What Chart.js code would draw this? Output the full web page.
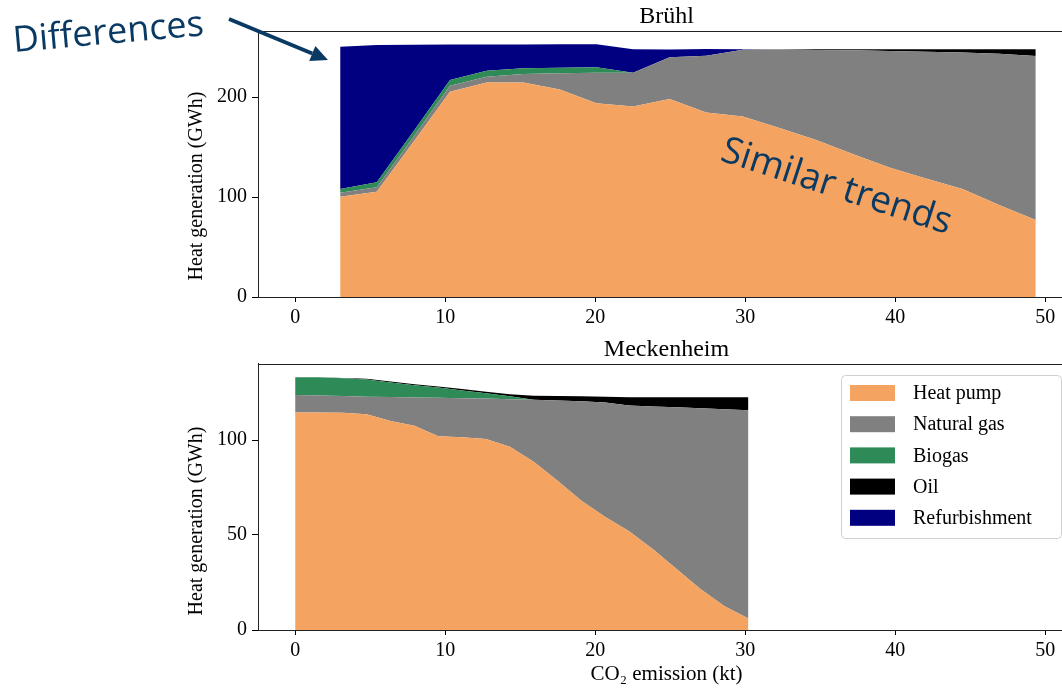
<!DOCTYPE html>
<html><head><meta charset="utf-8">
<script src="https://cdn.jsdelivr.net/npm/chart.js@4.4.1/dist/chart.umd.min.js"></script>
<style>
html,body{margin:0;padding:0;background:#fff;overflow:hidden;width:1062px;height:688px;position:relative}
#w1{position:absolute;left:0;top:0;width:1100px;height:333px}
#w2{position:absolute;left:0;top:333px;width:1100px;height:355px}
</style></head><body>
<div id="w1"><canvas id="c1"></canvas></div>
<div id="w2"><canvas id="c2"></canvas></div>
<script>
// ---------- data ----------
const seriesNames = ['Heat pump', 'Natural gas', 'Biogas', 'Oil', 'Refurbishment'];
const panelTitles = ['Brühl', 'Meckenheim'];
const xTicks = [0, 10, 20, 30, 40, 50];
const yTicksBruehl = [0, 100, 200];
const yTicksMeckenheim = [0, 50, 100];

const bruehlEmission = [3.0, 5.44, 7.88, 10.32, 12.76, 15.2, 17.64, 20.08, 22.52, 24.96, 27.4, 29.84, 32.28, 34.72, 37.16, 39.6, 42.04, 44.48, 46.92, 49.36];
const bruehlHeatPump = [100.3, 105.3, 155, 205.3, 214.5, 214.5, 207.5, 193.7, 190.5, 198, 184.5, 180.5, 169, 157, 143, 129.5, 118.5, 108, 92, 77];
const bruehlGas = [4, 4.4, 5, 6, 5.8, 8.5, 16.2, 30.6, 33.8, 41.7, 56.8, 66.8, 78.4, 90.1, 103.7, 116.6, 126.8, 136.5, 151.2, 163.9];
const bruehlBiogas = [3.7, 5, 5.5, 5.7, 6, 5.7, 5.6, 5.4, 0, 0, 0, 0, 0, 0, 0, 0, 0, 0, 0, 0];
const bruehlOil = [0, 0, 0, 0, 0, 0, 0, 0, 0, 0, 0, 0, 0.3, 0.6, 1.0, 1.6, 2.4, 3.2, 4.5, 6.8];
const bruehlRefurb = [142.3, 137.3, 86.7, 35.4, 26.2, 23.9, 23.4, 23.1, 23.4, 7.7, 6.7, 0.4, 0, 0, 0, 0, 0, 0, 0, 0];

const meckEmission = [0, 1.59, 3.18, 4.77, 6.36, 7.95, 9.54, 11.13, 12.72, 14.31, 15.9, 17.49, 19.08, 20.67, 22.26, 23.85, 25.44, 27.03, 28.62, 30.21];
const meckHeatPump = [114.5, 114.5, 114.3, 113.5, 110, 107.5, 102, 101.5, 100.5, 96.5, 88.5, 78.5, 68, 59.5, 52, 42.5, 32, 21.5, 12.5, 6];
const meckGas = [9.2, 8.9, 8.8, 9.3, 12.6, 14.9, 20.2, 20.5, 21.3, 25, 32.7, 42.3, 52.4, 60.3, 66.2, 75.1, 85.2, 95.2, 103.7, 109.7];
const meckBiogas = [9.3, 9.6, 9.4, 9.1, 7.7, 6.4, 5.4, 4.1, 2.8, 1.5, 0, 0, 0, 0, 0, 0, 0, 0, 0, 0];
const meckOil = [0, 0, 0.1, 0.3, 0.5, 0.6, 0.6, 0.7, 0.8, 1.1, 2.1, 2.4, 2.6, 3.0, 4.3, 4.9, 5.3, 5.8, 6.3, 6.8];
const meckRefurb = [0, 0, 0, 0, 0, 0, 0, 0, 0, 0, 0, 0, 0, 0, 0, 0, 0, 0, 0, 0];

const xLabel = 'CO₂ emission (kt)';
const yLabel = 'Heat generation (GWh)';
const noteLeft = 'Differences';
const noteRight = 'Similar trends';

// ---------- styles ----------
const seriesColors = ['#f4a460', '#808080', '#2e8b57', '#000000', '#000080'];
const SERIF = '"Liberation Serif", "Times New Roman", serif';
const NOTE_COLOR = '#0a3a63';

function buildDatasets(xs, series) {
  return series.map((vals, i) => ({
    label: seriesNames[i],
    data: xs.map((x, j) => ({x: x, y: vals[j]})),
    backgroundColor: seriesColors[i],
    borderColor: seriesColors[i],
    borderWidth: 0,
    pointRadius: 0,
    tension: 0,
    fill: i === 0 ? 'origin' : '-1'
  }));
}

const framePlugin = {
  id: 'frame',
  afterDraw(chart) {
    const {ctx, chartArea: a} = chart;
    ctx.save();
    ctx.strokeStyle = '#222';
    ctx.lineWidth = 1;
    ctx.strokeRect(Math.round(a.left) + 0.5, Math.round(a.top) + 0.5, Math.round(a.right - a.left), Math.round(a.bottom - a.top));
    ctx.restore();
  }
};

function yTitlePlugin(centerY) {
  return {
    id: 'ytitle',
    afterDraw(chart) {
      const ctx = chart.ctx;
      ctx.save();
      ctx.translate(197, centerY);
      ctx.rotate(-Math.PI / 2);
      ctx.font = '20px ' + SERIF;
      ctx.fillStyle = '#000';
      ctx.textAlign = 'center';
      ctx.textBaseline = 'middle';
      ctx.fillText(yLabel, 0, 0);
      ctx.restore();
    }
  };
}

const notesPlugin = {
  id: 'notes',
  afterDraw(chart) {
    const ctx = chart.ctx;
    ctx.save();
    ctx.fillStyle = NOTE_COLOR;
    ctx.strokeStyle = NOTE_COLOR;
    ctx.font = '36px "Open Sans", "Noto Sans", sans-serif';
    ctx.textBaseline = 'alphabetic';
    ctx.save();
    ctx.translate(14, 52);
    ctx.rotate(-5 * Math.PI / 180);
    ctx.fillText(noteLeft, 0, 0);
    ctx.restore();
    const x0 = 229, y0 = 19, x1 = 328, y1 = 60;
    const ang = Math.atan2(y1 - y0, x1 - x0);
    const hl = 17, hw = 8;
    const bx = x1 - hl * Math.cos(ang), by = y1 - hl * Math.sin(ang);
    ctx.lineWidth = 4;
    ctx.beginPath();
    ctx.moveTo(x0, y0);
    ctx.lineTo(bx, by);
    ctx.stroke();
    ctx.beginPath();
    ctx.moveTo(x1, y1);
    ctx.lineTo(bx + hw * Math.sin(ang), by - hw * Math.cos(ang));
    ctx.lineTo(bx - hw * Math.sin(ang), by + hw * Math.cos(ang));
    ctx.closePath();
    ctx.fill();
    ctx.save();
    ctx.translate(719, 160);
    ctx.rotate(18 * Math.PI / 180);
    ctx.font = '37px "Open Sans", "Noto Sans", sans-serif';
    ctx.fillText(noteRight, 0, 0);
    ctx.restore();
    ctx.restore();
  }
};

const legendPlugin = {
  id: 'customLegend',
  afterDraw(chart) {
    const ctx = chart.ctx;
    ctx.save();
    const bx = 841.5, by = 42.5, bw = 220, bh = 163, r = 4;
    ctx.beginPath();
    ctx.moveTo(bx + r, by);
    ctx.lineTo(bx + bw - r, by);
    ctx.quadraticCurveTo(bx + bw, by, bx + bw, by + r);
    ctx.lineTo(bx + bw, by + bh - r);
    ctx.quadraticCurveTo(bx + bw, by + bh, bx + bw - r, by + bh);
    ctx.lineTo(bx + r, by + bh);
    ctx.quadraticCurveTo(bx, by + bh, bx, by + bh - r);
    ctx.lineTo(bx, by + r);
    ctx.quadraticCurveTo(bx, by, bx + r, by);
    ctx.closePath();
    ctx.fillStyle = 'rgba(255,255,255,0.85)';
    ctx.fill();
    ctx.strokeStyle = '#d0d0d0';
    ctx.lineWidth = 1;
    ctx.stroke();
    ctx.font = '20px ' + SERIF;
    ctx.textBaseline = 'middle';
    ctx.textAlign = 'left';
    seriesNames.forEach((name, i) => {
      const cy = 60 + i * 31.2;
      ctx.fillStyle = seriesColors[i];
      ctx.fillRect(850, cy - 8, 45, 16);
      ctx.fillStyle = '#000';
      ctx.fillText(name, 913, cy + 1);
    });
    ctx.restore();
  }
};

function makeChart(canvasId, title, xs, series, yMax, yTicks, xAxisHeight, showXTitle, plugins) {
  return new Chart(document.getElementById(canvasId), {
    type: 'line',
    data: {datasets: buildDatasets(xs, series)},
    plugins: plugins,
    options: {
      responsive: true,
      maintainAspectRatio: false,
      animation: false,
      devicePixelRatio: 1,
      layout: {padding: {left: 180, right: 25, top: 0, bottom: 0}},
      elements: {line: {borderWidth: 0}},
      plugins: {
        legend: {display: false},
        tooltip: {enabled: false},
        title: {
          display: true, text: title, fullSize: false,
          font: {family: SERIF, size: 24, weight: 'normal', lineHeight: 1.2},
          color: '#000', padding: {top: 2, bottom: 0.2}
        },
        filler: {propagate: false}
      },
      scales: {
        x: {
          type: 'linear', min: -2.475, max: 51.975,
          afterBuildTicks: s => { s.ticks = xTicks.map(v => ({value: v})); },
          afterFit: s => { s.height = xAxisHeight; },
          grid: {drawOnChartArea: false, drawTicks: true, tickLength: 5, color: '#000'},
          border: {display: true, color: '#222', width: 1},
          ticks: {font: {family: SERIF, size: 20}, color: '#000', padding: 4, maxRotation: 0},
          title: {display: showXTitle, text: xLabel, font: {family: SERIF, size: 21}, color: '#000', padding: {top: 0, bottom: 1}}
        },
        y: {
          type: 'linear', stacked: true, min: 0, max: yMax,
          afterBuildTicks: s => { s.ticks = yTicks.map(v => ({value: v})); },
          afterFit: s => { s.width = 78; },
          grid: {drawOnChartArea: false, drawTicks: true, tickLength: 6, color: '#000'},
          border: {display: true, color: '#222', width: 1},
          ticks: {font: {family: SERIF, size: 20}, color: '#000', padding: 5}
        }
      }
    }
  });
}

makeChart('c1', panelTitles[0], bruehlEmission,
  [bruehlHeatPump, bruehlGas, bruehlBiogas, bruehlOil, bruehlRefurb],
  266, yTicksBruehl, 36, false, [framePlugin, yTitlePlugin(186), notesPlugin]);

makeChart('c2', panelTitles[1], meckEmission,
  [meckHeatPump, meckGas, meckBiogas, meckOil, meckRefurb],
  140, yTicksMeckenheim, 58, true, [framePlugin, yTitlePlugin(188), legendPlugin]);
</script>
</body></html>
